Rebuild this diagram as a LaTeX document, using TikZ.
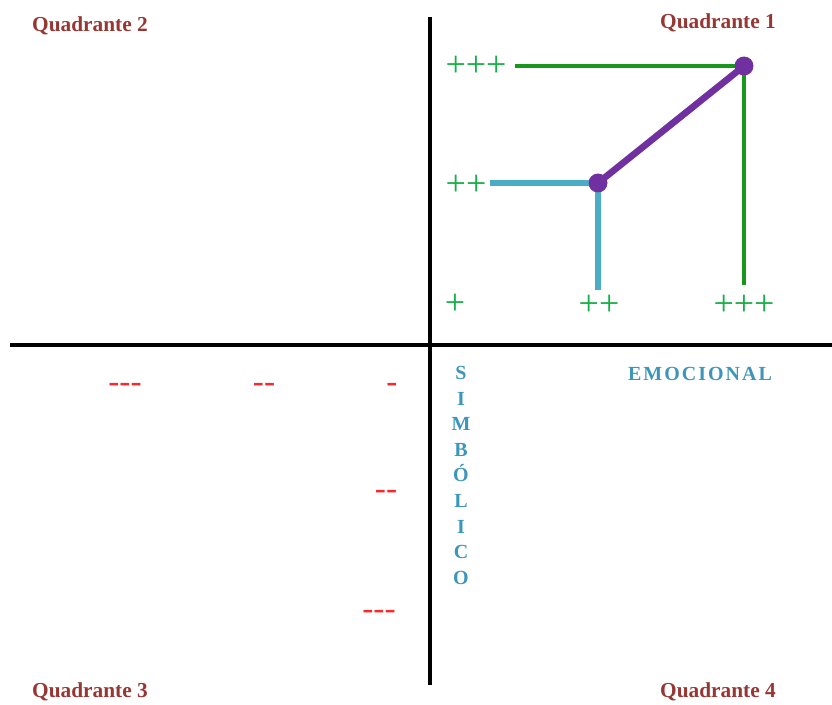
\documentclass[tikz,border=0pt]{standalone}
\usepackage{fontspec}
\setmainfont{Liberation Serif}
\definecolor{quadc}{RGB}{150,55,52}
\definecolor{plusc}{RGB}{20,175,70}
\definecolor{linegreen}{RGB}{25,150,30}
\definecolor{lineblue}{RGB}{75,172,198}
\definecolor{purp}{RGB}{112,48,160}
\definecolor{axisblue}{RGB}{60,150,185}
\definecolor{minusc}{RGB}{250,40,40}
\begin{document}
\begin{tikzpicture}[x=0.75pt,y=-0.75pt,
  quad/.style={font=\fontsize{16}{18}\selectfont\bfseries, text=quadc, inner sep=0pt},
  plus/.style={font=\fontsize{27}{30}\selectfont, text=plusc, inner sep=0pt},
  minus/.style={font=\fontsize{25}{28}\selectfont, text=minusc, inner sep=0pt},
  axlab/.style={font=\fontsize{15}{17}\selectfont\bfseries, text=axisblue, inner sep=0pt},
  axisline/.style={line width=2.4pt, black},
  dot/.style={circle, fill=purp, minimum size=14pt, inner sep=0pt}]
\useasboundingbox (0,0) rectangle (832,704);
% axes
\coordinate (vt) at (430,17);
\coordinate (vb) at (430,685);
\coordinate (hl) at (10,345);
\coordinate (hr) at (832,345);
\draw[axisline] (vt) -- (vb);
\draw[axisline] (hl) -- (hr);
% quadrant labels
\node[quad] (q2) at (90,26) {Quadrante 2};
\node[quad] (q1) at (718,23) {Quadrante 1};
\node[quad] (q3) at (90,692) {Quadrante 3};
\node[quad] (q4) at (718,692) {Quadrante 4};
% plus labels
\node[plus] (p3y) at (476,66) {+++};
\node[plus] (p2y) at (466,185) {++};
\node[plus] (p1) at (455,304) {+};
\node[plus] (p2x) at (599,305) {++};
\node[plus] (p3x) at (744,305) {+++};
% points
\node[dot] (d1) at (744,66) {};
\node[dot] (d2) at (598,183) {};
\coordinate (g1) at (515,66);
\coordinate (g2) at (744,285);
\coordinate (b1) at (490,183);
\coordinate (b2) at (598,290);
\draw[linegreen, line width=3.6pt] (g1) -- (d1.center) -- (g2);
\draw[lineblue, line width=4pt] (b1) -- (d2.center) -- (b2);
\draw[purp, line width=5pt] (d2.center) -- (d1.center);
\node[dot] at (d1.center) {};
\node[dot] at (d2.center) {};
% minus labels
\node[minus] (m3x) at (125,388) {-{}-{}-};
\node[minus] (m2x) at (264,388) {-{}-};
\node[minus] (m1x) at (392,388) {-};
\node[minus] (m2y) at (386,495) {-{}-};
\node[minus] (m3y) at (379,615) {-{}-{}-};
% axis names
\node[axlab] (emo) at (700,374) {E\kern1.5pt M\kern1.5pt O\kern1.5pt C\kern1.5pt I\kern1.5pt O\kern1.5pt N\kern1.5pt A\kern1.5pt L};
\node[axlab, align=center, font=\fontsize{15}{19.2}\selectfont\bfseries, anchor=north] (sim) at (461,366) {S\\I\\M\\B\\Ó\\L\\I\\C\\O};
\end{tikzpicture}
\end{document}
